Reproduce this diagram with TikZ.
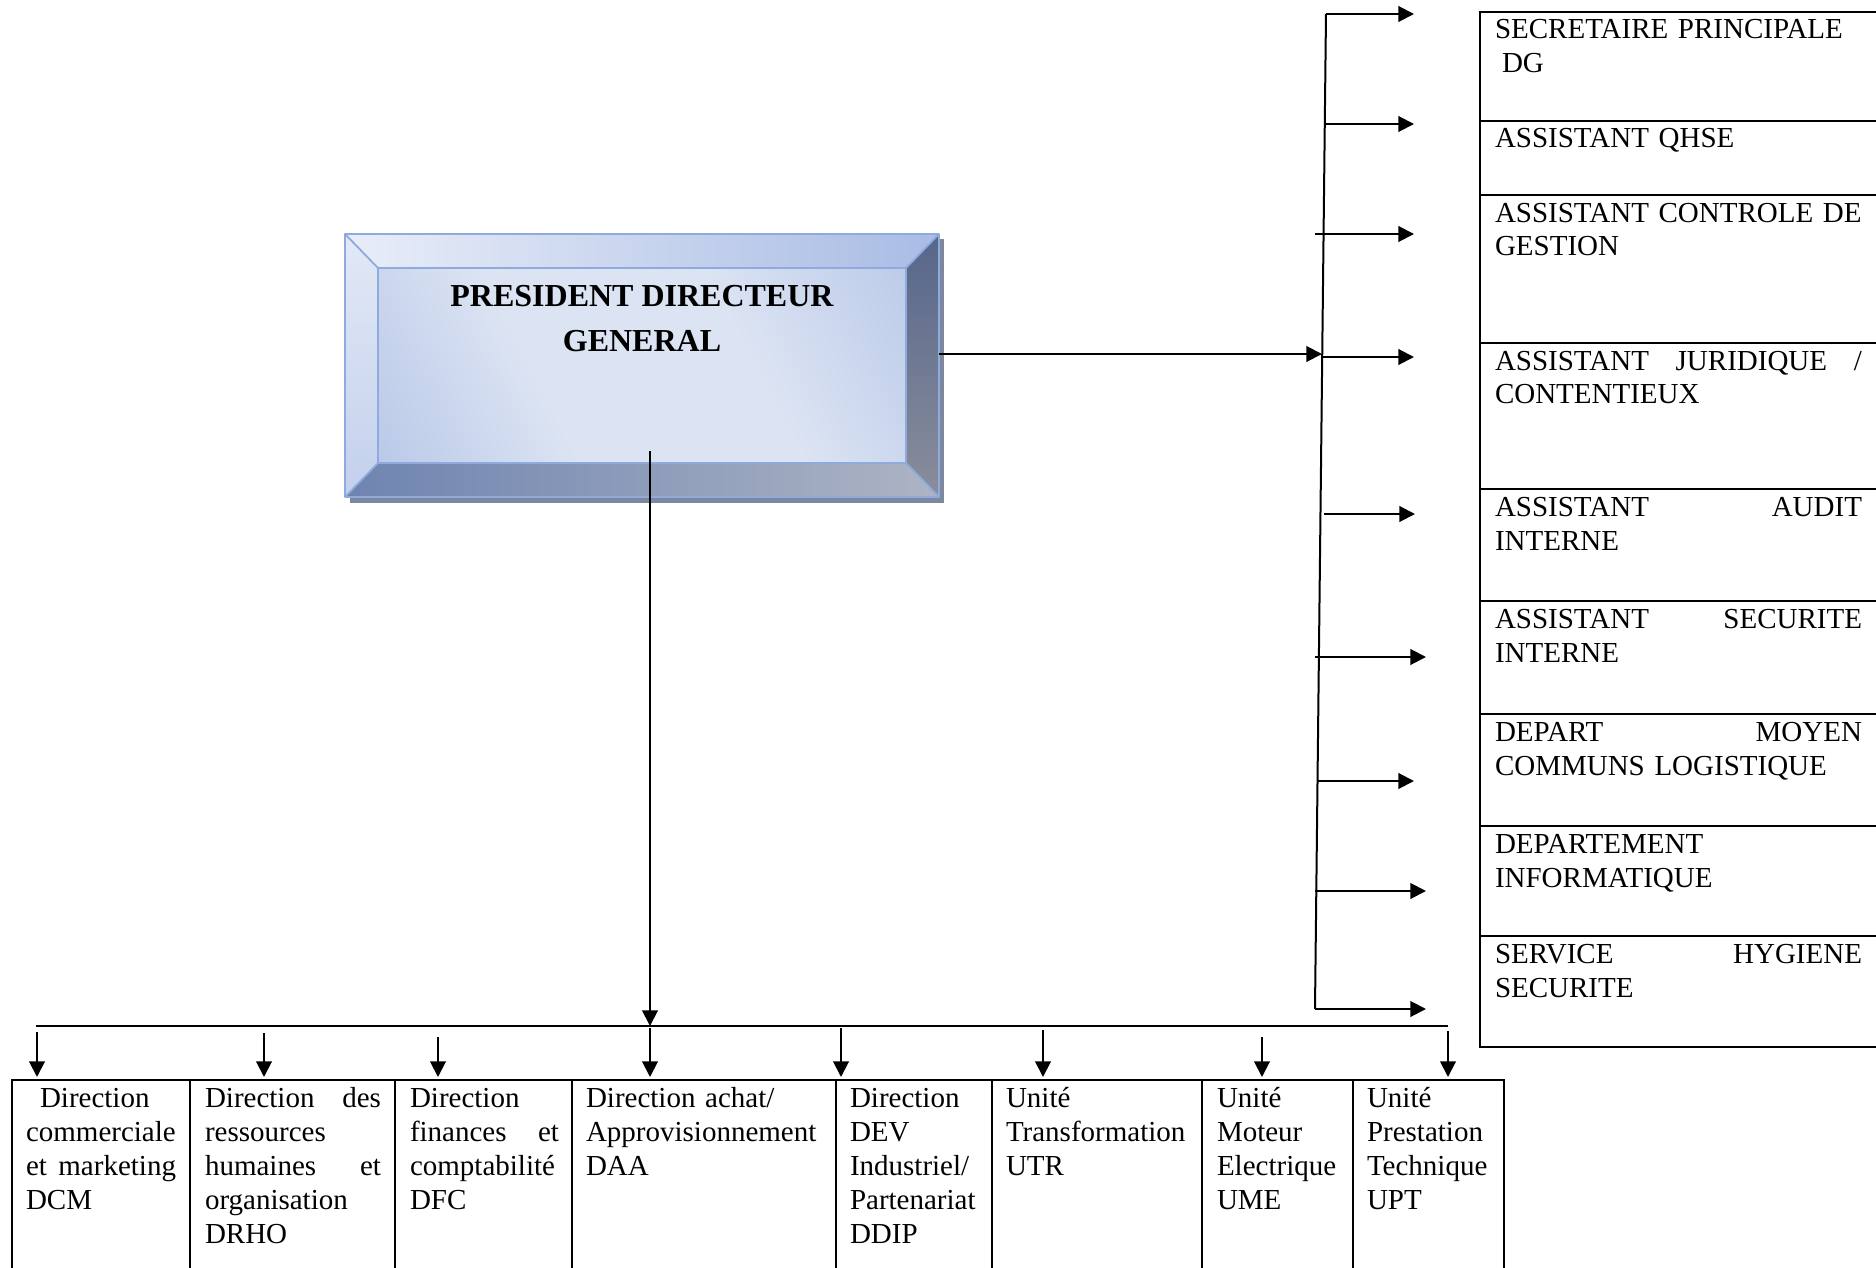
\documentclass[tikz,border=0pt]{standalone}
\usepackage{fontspec}
\setmainfont{Liberation Serif}
\usetikzlibrary{arrows.meta}

\definecolor{pdgline}{HTML}{8FAADC}
\definecolor{bevTopA}{HTML}{E8EDF8}
\definecolor{bevTopB}{HTML}{A9BCE4}
\definecolor{bevLeftA}{HTML}{E2E9F6}
\definecolor{bevLeftB}{HTML}{C3D0EC}
\definecolor{bevBotA}{HTML}{6E84B0}
\definecolor{bevBotB}{HTML}{ADB4C4}
\definecolor{bevRightA}{HTML}{56668A}
\definecolor{bevRightB}{HTML}{8A8E9C}
\definecolor{pdgshadow}{HTML}{7D879E}
\definecolor{faceBlueA}{HTML}{A0B5E0}
\definecolor{faceLight}{HTML}{DCE4F3}
\definecolor{faceBlueB}{HTML}{A5B9E2}

\pgfdeclarehorizontalshading{pdgface}{100bp}{%
  color(0bp)=(faceBlueA); color(38bp)=(faceLight); color(62bp)=(faceLight);
  color(100bp)=(faceBlueB)}

\tikzset{
  ln/.style={line width=1pt},
  arr/.style={line width=1pt, -{Triangle[length=7.8pt,width=7.8pt]}},
  celltext/.style={anchor=north west, inner sep=0pt, outer sep=0pt, align=left,
    font=\fontsize{14.5}{17}\selectfont},
  pdgtext/.style={anchor=north, inner sep=0pt, align=center,
    font=\bfseries\fontsize{16}{22.5}\selectfont},
  pdgedge/.style={draw=pdgline, line width=0.9pt, line join=round},
}

\newcommand{\firststrut}{\rule{0pt}{12.5pt}}

\begin{document}
\begin{tikzpicture}[x=0.5pt, y=-0.5pt]
\useasboundingbox[fill=white] (0,0) rectangle (1876,1268);

% ---------- President Directeur General: bevelled block ----------
\fill[pdgshadow] (350,239) rectangle (944,503);
\shade[shading=pdgface, shading angle=28] (378,268) rectangle (906,463);
\shade[left color=bevTopA, right color=bevTopB]
  (345,234) -- (939,234) -- (906,268) -- (378,268) -- cycle;
\shade[top color=bevLeftA, bottom color=bevLeftB]
  (345,234) -- (378,268) -- (378,463) -- (345,497) -- cycle;
\shade[left color=bevBotA, right color=bevBotB]
  (345,497) -- (378,463) -- (906,463) -- (939,497) -- cycle;
\shade[top color=bevRightA, bottom color=bevRightB]
  (939,234) -- (906,268) -- (906,463) -- (939,497) -- cycle;
\draw[pdgedge] (345,234) rectangle (939,497);
\draw[pdgedge] (378,268) rectangle (906,463);
\draw[pdgedge] (345,234) -- (378,268) (939,234) -- (906,268)
               (345,497) -- (378,463) (939,497) -- (906,463);
\node[pdgtext] (pdg) at (642,281) {\firststrut PRESIDENT DIRECTEUR\\GENERAL};

\coordinate (pdgS) at (650,451);
\coordinate (pdgE) at (939,354);

% ---------- staff column on the right ----------
\draw[ln] (1900,12) -- (1480,12) -- (1480,1047) -- (1900,1047);
\foreach \yy in {121,195,343,489,601,714,826,936}
  \draw[ln] (1480,\yy) -- (1900,\yy);

\node[celltext, text width=183.5pt] (s1) at (1495,14)
  {\firststrut SECRETAIRE PRINCIPALE\\\hspace*{3.5pt}DG};
\node[celltext, text width=183.5pt] (s2) at (1495,123)
  {\firststrut ASSISTANT QHSE};
\node[celltext, text width=183.5pt] (s3) at (1495,197)
  {\firststrut ASSISTANT CONTROLE DE\\GESTION};
\node[celltext, text width=183.5pt] (s4) at (1495,345)
  {\firststrut ASSISTANT\hfill JURIDIQUE\hfill /\\CONTENTIEUX};
\node[celltext, text width=183.5pt] (s5) at (1495,491)
  {\firststrut ASSISTANT\hfill AUDIT\\INTERNE};
\node[celltext, text width=183.5pt] (s6) at (1495,603)
  {\firststrut ASSISTANT\hfill SECURITE\\INTERNE};
\node[celltext, text width=183.5pt] (s7) at (1495,716)
  {\firststrut DEPART\hfill MOYEN\\COMMUNS LOGISTIQUE};
\node[celltext, text width=183.5pt] (s8) at (1495,828)
  {\firststrut DEPARTEMENT\\INFORMATIQUE};
\node[celltext, text width=183.5pt] (s9) at (1495,938)
  {\firststrut SERVICE\hfill HYGIENE\\SECURITE};

% vertical distribution line and its branches
\coordinate (vtop) at (1326,14);
\coordinate (vbot) at (1315,1009);
\draw[ln] (vtop) -- (vbot);
\foreach \i/\yy/\xs/\xe in {1/14/1326/1414, 2/124/1325/1414, 3/234/1315/1414,
    4/357/1323/1414, 5/514/1324/1415, 6/657/1315/1426, 7/781/1317/1414,
    8/891/1315/1426, 9/1009/1315/1426}{
  \coordinate (bs\i) at (\xs,\yy);
  \coordinate (be\i) at (\xe,\yy);
  \draw[arr] (bs\i) -- (be\i);
}
\coordinate (hitR) at (1322,354);
\draw[arr] (pdgE) -- (hitR);

% ---------- directions and units at the bottom ----------
\coordinate (busL) at (36,1026);
\coordinate (busR) at (1448,1026);
\coordinate (busC) at (650,1026);
\draw[ln] (busL) -- (busR);
\draw[arr] (pdgS) -- (busC);

\foreach \i/\xx/\ys in {1/37/1032, 2/264/1033, 3/438/1037, 4/650/1028,
    5/841/1028, 6/1043/1030, 7/1262/1037, 8/1448/1031}{
  \coordinate (ds\i) at (\xx,\ys);
  \coordinate (de\i) at (\xx,1077);
  \draw[arr] (ds\i) -- (de\i);
}

\draw[ln] (12,1290) -- (12,1080) -- (1504,1080) -- (1504,1290);
\foreach \xx in {190,395,572,836,992,1202,1353}
  \draw[ln] (\xx,1080) -- (\xx,1290);

\node[celltext, text width=75pt] (d1) at (26,1082)
  {\firststrut\hspace*{7pt}Direction\\commerciale\\et\hfill marketing\\DCM};
\node[celltext, text width=88pt] (d2) at (205,1082)
  {\firststrut Direction\hfill des\\ressources\\humaines\hfill et\\organisation\\DRHO};
\node[celltext, text width=74.5pt] (d3) at (410,1082)
  {\firststrut Direction\\finances\hfill et\\comptabilité\\DFC};
\node[celltext, text width=118pt] (d4) at (586,1082)
  {\firststrut Direction achat/\\Approvisionnement\\DAA};
\node[celltext, text width=64pt] (d5) at (850,1082)
  {\firststrut Direction\\DEV\\Industriel/\\Partenariat\\DDIP};
\node[celltext, text width=91pt] (d6) at (1006,1082)
  {\firststrut Unité\\Transformation\\UTR};
\node[celltext, text width=62pt] (d7) at (1217,1082)
  {\firststrut Unité\\Moteur\\Electrique\\UME};
\node[celltext, text width=62pt] (d8) at (1367,1082)
  {\firststrut Unité\\Prestation\\Technique\\UPT};
\end{tikzpicture}
\end{document}
